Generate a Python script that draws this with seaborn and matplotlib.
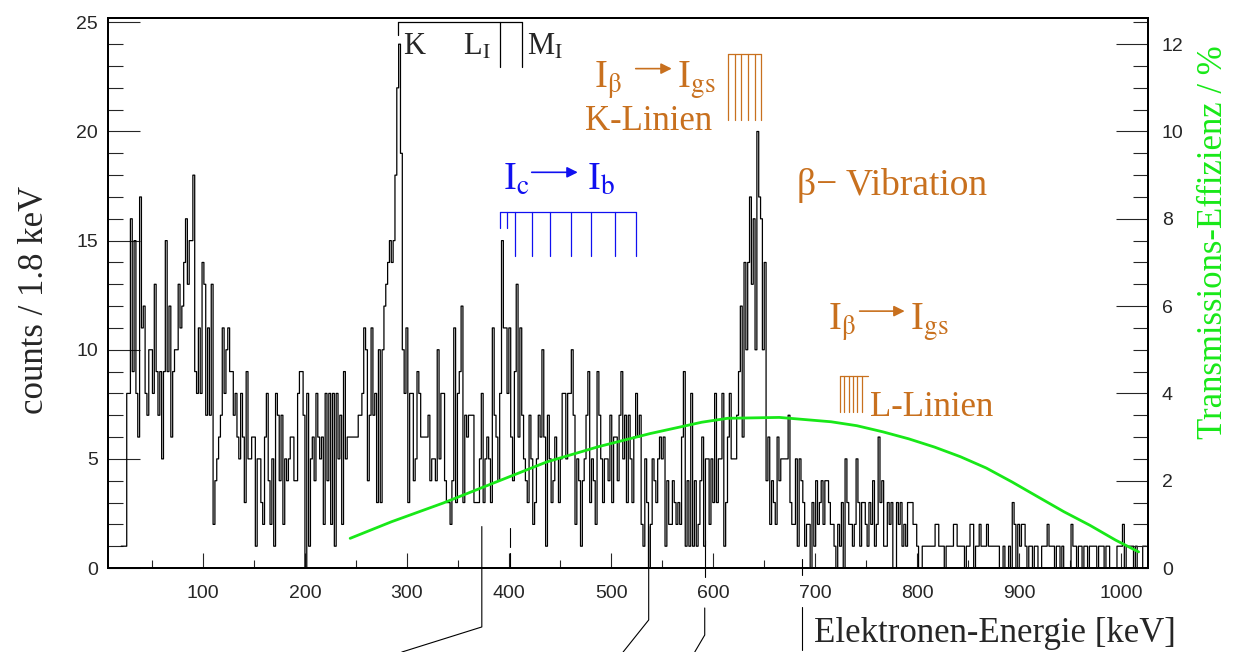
import numpy as np
import pandas as pd
import seaborn as sns
import matplotlib.pyplot as plt
from matplotlib.ticker import MultipleLocator

# electron spectrum, 1.8 keV bins starting at 20 keV
bin_start = 20.0
bin_width = 1.8
counts_020_124 = [1, 1, 1, 8, 8, 16, 9, 15, 8, 6, 17, 11, 12, 8, 7, 10, 10, 8, 13, 9,
                  7, 9, 5, 9, 15, 9, 12, 6, 9, 10, 10, 13, 11, 12, 14, 16, 13, 15, 15, 18,
                  9, 8, 11, 8, 14, 13, 7, 11, 7, 13, 2, 4, 5, 6, 7, 11, 8, 10]
counts_124_234 = [11, 9, 9, 7, 8, 6, 5, 8, 6, 3, 9, 5, 5, 6, 6, 1, 5, 5, 3, 2,
                  6, 8, 4, 2, 5, 1, 8, 7, 4, 7, 2, 5, 4, 5, 6, 6, 4, 4, 8, 9,
                  9, 7, 0, 8, 1, 5, 6, 4, 8, 6, 5, 6, 2, 8, 4, 8, 2, 8, 1, 8, 5]
counts_234_342 = [7, 2, 9, 5, 6, 6, 6, 6, 6, 6, 7, 7, 8, 11, 10, 4, 7, 11, 7, 8,
                  3, 10, 3, 10, 12, 13, 14, 15, 14, 15, 18, 22, 24, 19, 10, 8, 11, 3, 8, 8,
                  4, 5, 9, 8, 6, 6, 6, 6, 7, 4, 5, 5, 4, 10, 5, 8, 8, 4, 3, 3]
counts_342_450 = [2, 4, 11, 3, 8, 9, 12, 3, 7, 6, 7, 7, 7, 3, 3, 3, 5, 8, 3, 5,
                  6, 5, 3, 11, 7, 6, 4, 8, 15, 11, 11, 8, 11, 6, 4, 9, 13, 6, 11, 7,
                  5, 4, 3, 7, 5, 2, 3, 5, 7, 6, 10, 6, 1, 7, 5, 3, 4, 6, 5, 3]
counts_450_558 = [5, 8, 8, 5, 8, 8, 10, 7, 2, 5, 4, 1, 4, 5, 7, 9, 3, 5, 4, 2,
                  9, 7, 5, 3, 5, 5, 4, 7, 3, 6, 6, 4, 7, 9, 5, 7, 3, 7, 5, 3,
                  6, 8, 6, 7, 2, 1, 5, 3, 0, 2, 5, 4, 3, 5, 6, 5, 6, 1, 4, 2]
counts_558_666 = [2, 4, 3, 2, 3, 2, 6, 9, 1, 4, 1, 8, 1, 4, 1, 2, 4, 6, 1, 5,
                  5, 2, 5, 3, 8, 3, 5, 5, 8, 1, 3, 6, 8, 5, 5, 5, 7, 9, 12, 6,
                  14, 10, 14, 17, 13, 16, 10, 20, 17, 16, 10, 14, 4, 6, 2, 4, 3, 2, 6, 4]
counts_666_783 = [5, 5, 5, 5, 7, 3, 2, 2, 5, 1, 5, 4, 3, 1, 2, 2, 0, 3, 1, 4,
                  2, 3, 4, 2, 4, 4, 3, 2, 2, 1, 0, 2, 1, 3, 0, 5, 3, 2, 2, 1,
                  2, 5, 3, 1, 3, 3, 2, 1, 3, 2, 4, 1, 2, 6, 3, 4, 1, 1, 3, 2, 3, 0, 0, 3, 2]
counts_783_900 = [3, 1, 2, 1, 3, 3, 3, 2, 2, 1, 0, 0, 1, 1, 1, 1, 1, 1, 1, 2,
                  2, 1, 1, 1, 0, 1, 1, 1, 1, 2, 2, 1, 1, 1, 1, 0, 1, 1, 2, 2,
                  0, 1, 1, 2, 1, 1, 1, 2, 1, 1, 1, 1, 1, 1, 0, 0, 1, 0, 0, 1, 0, 3, 2, 0, 2]
counts_900_1024 = [1, 2, 2, 1, 0, 1, 1, 0, 1, 1, 0, 0, 1, 1, 1, 2, 1, 1, 1, 0,
                   1, 1, 0, 1, 0, 0, 0, 0, 2, 1, 1, 0, 1, 1, 0, 1, 1, 0, 1, 1,
                   1, 1, 0, 1, 1, 1, 0, 1, 1, 0, 0, 0, 0, 1, 1, 1, 2, 0, 1, 1,
                   1, 1, 0, 1, 0, 0, 0, 1, 1]

# transmission efficiency curve (right axis, %)
eff_energy = [244.3, 284.8, 335.6, 386.2, 436.9, 487.6, 538.2, 588.8, 614.2, 664.8,
              715.6, 740.8, 766.2, 791.5, 816.9, 842.2, 867.6, 892.9, 918.2, 943.6,
              969.0, 994.2, 1016.8]
eff_percent = [0.68, 1.06, 1.49, 1.96, 2.43, 2.78, 3.08, 3.34, 3.43, 3.45,
               3.35, 3.26, 3.12, 2.96, 2.77, 2.55, 2.29, 1.97, 1.63, 1.29,
               0.98, 0.64, 0.37]

# line markers (keV)
shell_lines = [291.0, 390.9, 412.2]           # K, L_I, M_I bracket
vib_k_lines = [614.5, 621.1, 627.6, 634.1, 640.7, 647.2]
vib_l_lines = [723.9, 728.3, 732.7, 736.6, 741.0, 745.4]
band_lines_short = [391.6, 397.5]
band_lines_long = [405.6, 422.2, 439.9, 460.4, 480.0, 503.5, 524.1]

orange = '#c8701e'
blue = '#1010f0'
green = '#18e818'

sns.set_style('ticks')
plt.rcParams['font.family'] = ['Liberation Serif', 'DejaVu Sans']
plt.rcParams['mathtext.fontset'] = 'stix'

counts = (counts_020_124 + counts_124_234 + counts_234_342 + counts_342_450 +
          counts_450_558 + counts_558_666 + counts_666_783 + counts_783_900 + counts_900_1024)
edges = (bin_start + bin_width * np.arange(len(counts) + 1)).tolist()
df = pd.DataFrame({'energy': np.array(edges[:-1]) + bin_width / 2, 'counts': counts})

fig = plt.figure(figsize=(12.38, 6.52), dpi=100)
ax = fig.add_axes([0.0872, 0.1288, 0.8401, 0.8436])

sns.histplot(data=df, x='energy', weights='counts', bins=edges, element='step',
             fill=False, color='black', linewidth=0.9, ax=ax)

# K / L / M bracket on top
ax.plot([shell_lines[0], shell_lines[2]], [25, 25], color='black', lw=0.9)
ax.plot([shell_lines[0], shell_lines[0]], [25, 24.4], color='black', lw=0.9)
for e in shell_lines[1:]:
    ax.plot([e, e], [25, 22.94], color='black', lw=0.9)
ax.text(295.9, 23.53, 'K', fontsize=22, va='baseline')
ax.text(354.7, 23.53, r'L$_{\mathrm{I}}$', fontsize=22, va='baseline')
ax.text(417.3, 23.53, r'M$_{\mathrm{I}}$', fontsize=22, va='baseline')

# orange K-lines comb
ax.plot([vib_k_lines[0], vib_k_lines[-1]], [23.53, 23.53], color=orange, lw=0.9)
for e in vib_k_lines:
    ax.plot([e, e], [23.53, 20.51], color=orange, lw=0.9)
ax.text(483.0, 22.02, r'I$_{\mathrm{\beta}}$', color=orange, fontsize=28, va='baseline')
ax.annotate('', xy=(559.4, 22.88), xytext=(524.1, 22.88),
            arrowprops=dict(arrowstyle='-|>', color=orange, lw=1.2, mutation_scale=16,
                            shrinkA=0, shrinkB=0))
ax.text(564.3, 22.02, r'I$_{\mathrm{gs}}$', color=orange, fontsize=28, va='baseline')
ax.text(474.1, 20.05, 'K-Linien', color=orange, fontsize=25, va='baseline')

# blue band comb
ax.plot([band_lines_short[0], band_lines_long[-1]], [16.3, 16.3], color=blue, lw=0.9)
for e in band_lines_short:
    ax.plot([e, e], [16.3, 15.57], color=blue, lw=0.9)
for e in band_lines_long:
    ax.plot([e, e], [16.3, 14.29], color=blue, lw=0.9)
ax.text(393.8, 17.31, r'I$_{\mathrm{c}}$', color=blue, fontsize=28, va='baseline')
ax.annotate('', xy=(467.3, 18.13), xytext=(422.2, 18.13),
            arrowprops=dict(arrowstyle='-|>', color=blue, lw=1.2, mutation_scale=16,
                            shrinkA=0, shrinkB=0))
ax.text(476.1, 17.31, r'I$_{\mathrm{b}}$', color=blue, fontsize=28, va='baseline')

ax.text(681.8, 17.08, 'β\u2212 Vibration', color=orange, fontsize=27, va='baseline')

# orange L-lines comb
ax.text(712.1, 10.90, r'I$_{\mathrm{\beta}}$', color=orange, fontsize=28, va='baseline')
ax.annotate('', xy=(787.6, 11.77), xytext=(743.5, 11.77),
            arrowprops=dict(arrowstyle='-|>', color=orange, lw=1.2, mutation_scale=16,
                            shrinkA=0, shrinkB=0))
ax.text(792.5, 10.90, r'I$_{\mathrm{gs}}$', color=orange, fontsize=28, va='baseline')
ax.plot([vib_l_lines[0], 752.0], [8.79, 8.79], color=orange, lw=0.9)
for e in vib_l_lines:
    ax.plot([e, e], [8.79, 7.14], color=orange, lw=0.9)
ax.text(753.3, 6.96, 'L-Linien', color=orange, fontsize=25, va='baseline')

# guide lines running below the axis
kw = dict(color='black', lw=0.8, clip_on=False)
ax.plot([373.3, 373.3, 294.9], [1.9, -2.70, -3.85], **kw)
ax.plot([400.7, 400.7], [1.83, 0.96], **kw)
ax.plot([400.7, 400.7], [0.69, 0.0], **kw)
ax.plot([536.8, 536.8, 511.7], [1.9, -2.38, -3.85], **kw)
ax.plot([591.7, 591.7], [1.28, -0.41], **kw)
ax.plot([591.7, 591.7, 581.9], [-1.83, -3.07, -3.85], **kw)
ax.plot([687.4, 687.4], [0.4, -0.3], **kw)
ax.plot([687.4, 687.4], [-1.79, -3.75], **kw)

ax.set_xlim(7, 1026)
ax.set_ylim(0, 25.2)
ax.set_xlabel('')
ax.set_ylabel('')
ax.xaxis.set_major_locator(MultipleLocator(100))
ax.xaxis.set_minor_locator(MultipleLocator(50))
ax.yaxis.set_major_locator(MultipleLocator(5))
ax.yaxis.set_minor_locator(MultipleLocator(1))
ax.tick_params(axis='x', which='major', direction='in', length=11, width=0.8, pad=12,
               labelsize=14, top=False)
ax.tick_params(axis='x', which='minor', direction='in', length=5.5, width=0.8, top=False)
ax.tick_params(axis='y', which='major', direction='in', length=23, width=0.8, pad=7,
               labelsize=14, right=False)
ax.tick_params(axis='y', which='minor', direction='in', length=11, width=0.8, right=False)
ax.set_xticks([100, 200, 300, 400, 500, 600, 700, 800, 900, 1000])
for lab in ax.get_xticklabels() + ax.get_yticklabels():
    lab.set_fontfamily('Liberation Sans')

# efficiency on the right axis
ax2 = ax.twinx()
sns.lineplot(x=eff_energy, y=eff_percent, ax=ax2, color=green, linewidth=2)
ax2.set_ylim(0, 12.6)
ax2.set_ylabel('')
ax2.yaxis.set_major_locator(MultipleLocator(2))
ax2.yaxis.set_minor_locator(MultipleLocator(0.5))
ax2.tick_params(axis='y', which='major', direction='in', length=23, width=0.8, pad=10,
                labelsize=14, left=False, right=True)
ax2.tick_params(axis='y', which='minor', direction='in', length=11, width=0.8,
                left=False, right=True)
for lab in ax2.get_yticklabels():
    lab.set_fontfamily('Liberation Sans')

for a in (ax, ax2):
    for s in a.spines.values():
        s.set_linewidth(1.4)
        s.set_color('black')

fig.text(35 / 1238, 1 - 300 / 652, 'counts / 1.8 keV', rotation=90, fontsize=25,
         ha='center', va='center')
fig.text(1214 / 1238, 1 - 242 / 652, 'Transmissions-Effizienz / %', rotation=90,
         fontsize=25, ha='center', va='center', color=green)
fig.text(1176 / 1238, 1 - 634 / 652, 'Elektronen-Energie [keV]', fontsize=25,
         ha='right', va='center')

plt.savefig('out.png', dpi=100)
